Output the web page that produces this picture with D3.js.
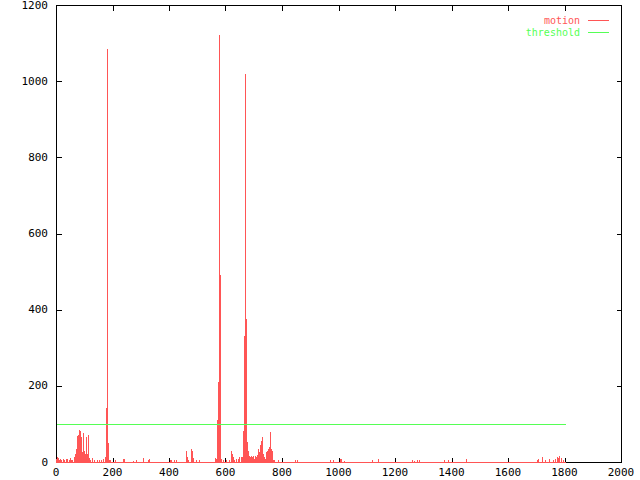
<!DOCTYPE html>
<html>
<head>
<meta charset="utf-8">
<script src="https://cdn.jsdelivr.net/npm/d3@7"></script>
<style>
  html, body { margin: 0; padding: 0; background: #fff; }
  svg { display: block; }
  text { font-family: "DejaVu Sans Mono", "Liberation Mono", monospace; font-size: 11px; }
  text.leg { font-size: 10px; }
</style>
</head>
<body>
<script>
// ---- data ----
const frames = [0,4,7,11,14,18,25,28,35,39,46,50,53,57,
  64,67,71,74,78,81,85,88,92,95,99,102,106,109,113,116,120,127,134,145,152,159,166,173,177,180,184,187,191,
  210,237,240,272,283,307,325,328,
  404,408,416,425,
  460,464,467,478,481,485,495,506,
  562,566,570,573,577,581,584,591,601,612,
  619,623,626,630,637,644,648,655,658,662,665,669,672,676,680,683,687,690,694,697,701,704,708,711,715,718,722,725,729,732,736,739,743,746,750,753,757,760,764,767,771,785,846,854,
  970,979,1005,1009,1020,1120,1141,1260,1268,1278,1285,1372,1387,1450,
  1703,1707,1719,1731,1746,1758,1765,1773,1777,1782,1786,1789,1793,1800];
const motion = [8,12,10,6,8,5,7,4,8,7,5,10,6,4,
  12,20,35,68,72,85,82,65,25,76,28,20,65,20,72,10,4,10,5,6,4,5,8,12,143,1085,50,5,4,
  4,8,8,3,4,10,5,8,
  4,6,4,4,
  30,12,6,35,28,10,4,4,
  10,8,110,210,1120,490,8,4,4,4,
  30,22,12,6,8,8,12,14,12,82,330,1018,375,52,30,15,12,15,12,15,8,15,12,18,35,25,45,55,65,22,12,8,25,28,35,40,78,35,30,5,4,4,4,6,
  4,6,8,8,3,6,8,4,3,4,4,5,6,8,
  5,8,14,5,8,5,8,12,10,16,8,10,4,0];
const thresholdValue = 100;
const thresholdRange = [0, 1800];
const xTicks = [0,200,400,600,800,1000,1200,1400,1600,1800,2000];
const yTicks = [0,200,400,600,800,1000,1200];
const seriesNames = ["motion", "threshold"];
const seriesColors = ["#ff5555", "#55ff55"];

// ---- chart ----
const W = 640, H = 480;
const L = 56, R = 621, T = 5, B = 462;
const svg = d3.select("body").append("svg").attr("width", W).attr("height", H);
const x = d3.scaleLinear().domain([0, 2000]).range([L, R]);
const y = d3.scaleLinear().domain([0, 1200]).range([B, T]);
const px = v => Math.round(x(v)) + 0.5;
const py = v => Math.round(y(v)) + 0.5;

const g = svg.append("g").attr("shape-rendering", "crispEdges");

// border
g.append("rect").attr("x", L + 0.5).attr("y", T + 0.5)
  .attr("width", R - L).attr("height", B - T)
  .attr("fill", "none").attr("stroke", "#000");

// ticks (inward, mirrored)
const tl = 5;
xTicks.forEach(t => {
  g.append("line").attr("x1", px(t)).attr("x2", px(t)).attr("y1", B + 0.5).attr("y2", B + 0.5 - tl).attr("stroke", "#000");
  g.append("line").attr("x1", px(t)).attr("x2", px(t)).attr("y1", T + 0.5).attr("y2", T + 0.5 + tl).attr("stroke", "#000");
  svg.append("text").attr("x", x(t)).attr("y", 472).attr("text-anchor", "middle")
    .attr("dominant-baseline", "central").text(t);
});
yTicks.forEach(t => {
  g.append("line").attr("x1", L + 0.5).attr("x2", L + 0.5 + tl).attr("y1", py(t)).attr("y2", py(t)).attr("stroke", "#000");
  g.append("line").attr("x1", R + 0.5).attr("x2", R + 0.5 - tl).attr("y1", py(t)).attr("y2", py(t)).attr("stroke", "#000");
  svg.append("text").attr("x", 48).attr("y", y(t)).attr("text-anchor", "end")
    .attr("dominant-baseline", "central").text(t);
});

// motion impulses
const data = frames.map((f, i) => ({f, v: motion[i]}));
g.selectAll("line.imp").data(data).enter().append("line")
  .attr("class", "imp")
  .attr("x1", d => px(d.f)).attr("x2", d => px(d.f))
  .attr("y1", py(0)).attr("y2", d => Math.round(y(d.v)))
  .attr("stroke", seriesColors[0]);
// baseline of motion
g.append("line").attr("x1", px(frames[0])).attr("x2", px(frames[frames.length - 1]))
  .attr("y1", py(0)).attr("y2", py(0)).attr("stroke", seriesColors[0]);

// threshold
g.append("line").attr("x1", px(thresholdRange[0])).attr("x2", px(thresholdRange[1]))
  .attr("y1", py(thresholdValue)).attr("y2", py(thresholdValue)).attr("stroke", seriesColors[1]);

// legend
const legY = [20.5, 32.5];
seriesNames.forEach((n, i) => {
  svg.append("text").attr("class", "leg").attr("x", 580).attr("y", legY[i]).attr("text-anchor", "end")
    .attr("dominant-baseline", "central").attr("fill", seriesColors[i]).text(n);
  g.append("line").attr("x1", 588).attr("x2", 609).attr("y1", Math.floor(legY[i]) + 0.5).attr("y2", Math.floor(legY[i]) + 0.5)
    .attr("stroke", seriesColors[i]);
});
</script>
</body>
</html>
